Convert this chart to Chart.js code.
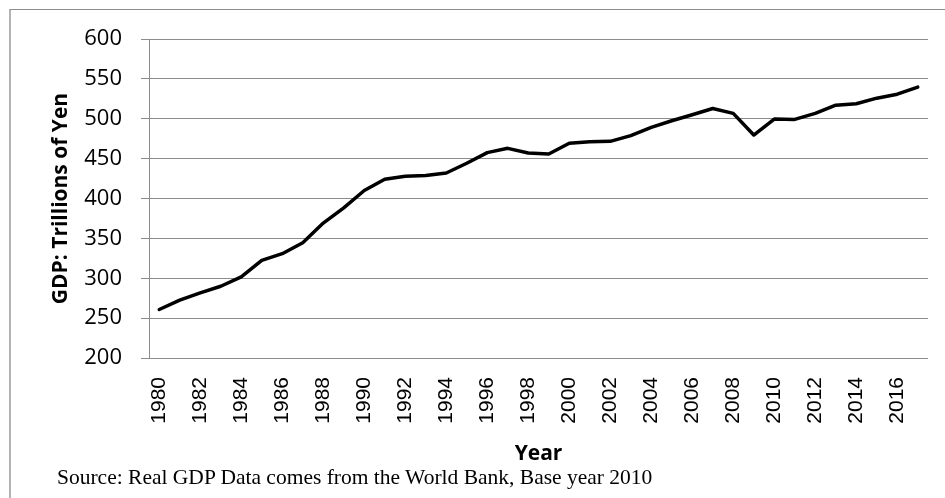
<!DOCTYPE html>
<html lang="en">
<head>
    <meta charset="UTF-8">
    <title>Japan Real GDP</title>
    <script src="https://cdn.jsdelivr.net/npm/chart.js"></script>
    <style>
        html, body { margin: 0; padding: 0; background: #fff; }
        .wrap { position: relative; width: 945px; height: 498px; }
        .frame {
            position: absolute; left: 9px; top: 9px; right: 0; bottom: -5px;
            border-left: 2px solid #b4b4b4; border-top: 1px solid #8c8c8c;
        }
        .source {
            position: absolute; left: 57px; top: 465px;
            font-family: "Liberation Serif", serif; font-size: 21.5px; color: #000;
            white-space: nowrap;
        }
        canvas { position: absolute; left: 0; top: 0; }
    </style>
</head>
<body>
    <div class="wrap">
        <div class="frame"></div>
        <canvas id="gdpChart" width="945" height="498"></canvas>
        <div class="source">Source: Real GDP Data comes from the World Bank, Base year 2010</div>
    </div>

    <script>
        // data
        const years = ['1980', '1981', '1982', '1983', '1984', '1985', '1986', '1987', '1988', '1989',
                       '1990', '1991', '1992', '1993', '1994', '1995', '1996', '1997', '1998', '1999',
                       '2000', '2001', '2002', '2003', '2004', '2005', '2006', '2007', '2008', '2009',
                       '2010', '2011', '2012', '2013', '2014', '2015', '2016', '2017'];
        const gdp = [260.8, 272.5, 281.7, 290.0, 301.7, 322.5, 330.8, 344.6, 369.2, 388.3,
                     410.0, 424.2, 428.0, 428.8, 432.0, 444.2, 457.5, 462.9, 457.0, 455.8,
                     469.2, 471.3, 471.7, 478.8, 489.2, 497.5, 505.0, 512.9, 506.7, 479.6,
                     499.6, 499.2, 506.7, 517.0, 518.8, 525.8, 530.8, 539.6];
        const yMin = 200, yMax = 600, yStep = 50;

        const gridColor = '#8c8c8c';

        var ctx = document.getElementById('gdpChart').getContext('2d');
        var gdpChart = new Chart(ctx, {
            type: 'line',
            data: {
                labels: years,
                datasets: [{
                    label: 'Real GDP',
                    data: gdp,
                    borderColor: '#000',
                    borderWidth: 3.5,
                    borderJoinStyle: 'round',
                    borderCapStyle: 'round',
                    pointRadius: 0,
                    tension: 0,
                    fill: false
                }]
            },
            options: {
                responsive: false,
                animation: false,
                layout: { padding: { top: 39, right: 17, bottom: 0, left: 0 } },
                plugins: {
                    legend: { display: false },
                    tooltip: { enabled: false }
                },
                scales: {
                    x: {
                        offset: true,
                        afterFit: function (scale) {
                            scale.height = 140;
                            scale.paddingLeft = 0;
                            scale.paddingRight = 0;
                        },
                        grid: { display: false, drawTicks: false, tickLength: 0 },
                        border: { display: false },
                        ticks: {
                            autoSkip: false,
                            maxRotation: 90,
                            minRotation: 90,
                            padding: 19,
                            color: '#000',
                            font: { family: 'Liberation Sans', size: 21 },
                            callback: function (val, i) { return i % 2 === 0 ? this.getLabelForValue(val) : ''; }
                        },
                        title: {
                            display: true,
                            text: 'Year',
                            color: '#000',
                            font: { family: 'Open Sans', size: 21, weight: 'bold' },
                            padding: { top: 0, bottom: 31 }
                        }
                    },
                    y: {
                        min: yMin,
                        max: yMax,
                        afterFit: function (scale) { scale.width = 149; },
                        grid: { color: gridColor, lineWidth: 1, tickLength: 8 },
                        border: { display: true, color: gridColor, width: 1 },
                        ticks: {
                            stepSize: yStep,
                            padding: 19,
                            color: '#000',
                            font: { family: 'Open Sans', size: 22 }
                        },
                        title: {
                            display: true,
                            text: 'GDP: Trillions of Yen',
                            color: '#000',
                            font: { family: 'Open Sans', size: 21, weight: 'bold' },
                            padding: { top: 48, bottom: 0 }
                        }
                    }
                }
            }
        });
    </script>
</body>
</html>
